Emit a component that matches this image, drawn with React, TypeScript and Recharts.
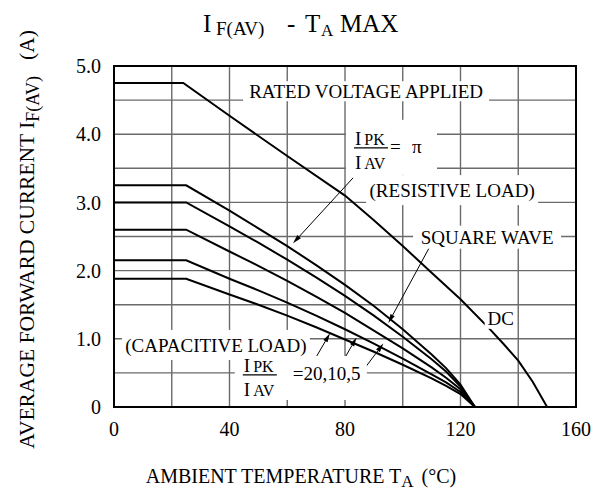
import React from 'react';
import {
  ComposedChart,
  Line,
  XAxis,
  YAxis,
  CartesianGrid,
  ReferenceArea,
  ReferenceDot,
  ReferenceLine,
  Label,
} from 'recharts';

const SERIF = '"Liberation Serif", "Times New Roman", serif';

// temperatures (°C) where the rectified-load curves were read
const tempSteps = [0, 25, 40, 50, 60, 70, 80, 90, 100, 110, 115, 120, 125];
const resistivePi = [3.25, 3.25, 2.88, 2.62, 2.36, 2.08, 1.79, 1.48, 1.14, 0.77, 0.57, 0.33, 0];
const squareWave = [3.0, 3.0, 2.65, 2.41, 2.16, 1.9, 1.63, 1.34, 1.03, 0.7, 0.52, 0.3, 0];
const capacitive5 = [2.6, 2.6, 2.28, 2.07, 1.85, 1.62, 1.38, 1.12, 0.86, 0.58, 0.43, 0.26, 0];
const capacitive10 = [2.15, 2.15, 1.88, 1.71, 1.53, 1.34, 1.14, 0.93, 0.71, 0.48, 0.36, 0.22, 0];
const capacitive20 = [1.88, 1.88, 1.65, 1.5, 1.34, 1.17, 0.99, 0.81, 0.62, 0.42, 0.31, 0.19, 0];

// DC curve
const tempDc = [0, 24, 40, 60, 80, 90, 100, 110, 120, 130, 135, 140, 145, 150];
const currentDc = [4.75, 4.75, 4.27, 3.68, 3.1, 2.74, 2.36, 1.97, 1.58, 1.15, 0.92, 0.68, 0.37, 0];

const xTicks = [0, 20, 40, 60, 80, 100, 120, 140, 160];
const xTickLabels = ['0', '', '40', '', '80', '', '120', '', '160'];
const yTicks = [0, 0.5, 1, 1.5, 2, 2.5, 3, 3.5, 4, 4.5, 5];
const yTickLabels = ['0', '', '1.0', '', '2.0', '', '3.0', '', '4.0', '', '5.0'];

const toPoints = (ts: number[], vs: number[]) => ts.map((t, i) => ({ t, i: vs[i] }));

const rectifiedCurves = [resistivePi, squareWave, capacitive5, capacitive10, capacitive20].map((v) =>
  toPoints(tempSteps, v)
);
const dcCurve = toPoints(tempDc, currentDc);

const BoxText = ({ cx, cy, text, w, h }: any) => (
  <g>
    <rect x={cx - w / 2} y={cy - h / 2} width={w} height={h} fill="#fff" />
    <text x={cx} y={cy + 7} textAnchor="middle" fontFamily={SERIF} fontSize={19} fill="#000">
      {text}
    </text>
  </g>
);

// I_PK / I_AV fraction, cy is the fraction bar
const Fraction = ({ cx, cy, parts, box }: any) => (
  <g fontFamily={SERIF} fill="#000">
    <rect x={cx + box[0]} y={cy + box[1]} width={box[2]} height={box[3]} fill="#fff" />
    <text x={cx - 16} y={cy - 3} fontSize={19}>
      I<tspan fontSize={16} dx={3}>PK</tspan>
    </text>
    <line x1={cx - 17} x2={cx + 17} y1={cy} y2={cy} stroke="#000" strokeWidth={1.2} />
    <text x={cx - 16} y={cy + 21} fontSize={19}>
      I<tspan fontSize={16} dx={3}>AV</tspan>
    </text>
    {parts.map((p: any, k: number) => (
      <text key={k} x={cx + p[0]} y={cy + 5} fontSize={19}>
        {p[1]}
      </text>
    ))}
  </g>
);

const Arrow = (props: any) => {
  const { x1, y1, x2, y2 } = props;
  const dx = x2 - x1;
  const dy = y2 - y1;
  const len = Math.hypot(dx, dy) || 1;
  const ux = dx / len;
  const uy = dy / len;
  const hl = 9;
  const hw = 2.4;
  const bx = x2 - ux * hl;
  const by = y2 - uy * hl;
  return (
    <g>
      <line x1={x1} y1={y1} x2={bx} y2={by} stroke="#000" strokeWidth={1} />
      <polygon
        points={`${x2},${y2} ${bx - uy * hw},${by + ux * hw} ${bx + uy * hw},${by - ux * hw}`}
        fill="#000"
      />
    </g>
  );
};

const XTitle = ({ viewBox }: any) => (
  <text x={301} y={viewBox.y + 76} textAnchor="middle" fontFamily={SERIF} fontSize={20} fill="#000">
    AMBIENT TEMPERATURE T<tspan fontSize={17} dy={4}>A</tspan>
    <tspan dy={-4} dx={8}>(°C)</tspan>
  </text>
);

const YTitle = ({ viewBox }: any) => {
  const x = 34;
  const y = viewBox.y + viewBox.height / 2 + 3;
  return (
    <text
      x={x}
      y={y}
      transform={`rotate(-90 ${x} ${y})`}
      textAnchor="middle"
      fontFamily={SERIF}
      fontSize={21.5}
      fill="#000"
    >
      AVERAGE FORWARD CURRENT I<tspan fontSize={18} dy={5}>F(AV)</tspan>
      <tspan dy={-5} dx={16}>(A)</tspan>
    </text>
  );
};

export default function App() {
  return (
    <div style={{ position: 'absolute', left: 0, top: 0, width: 600, height: 496, background: '#fff' }}>
      <svg width={600} height={50} style={{ position: 'absolute', left: 0, top: 0 }}>
        <g fontFamily={SERIF} fill="#000">
          <text x={203} y={32} fontSize={25}>I</text>
          <text x={216} y={35} fontSize={19}>F(AV)</text>
          <text x={287} y={32} fontSize={25}>-</text>
          <text x={305} y={32} fontSize={25}>T</text>
          <text x={321} y={36} fontSize={17}>A</text>
          <text x={340} y={32} fontSize={25}>MAX</text>
        </g>
      </svg>
      <div style={{ position: 'absolute', left: 0, top: 0 }}>
        <ComposedChart width={600} height={496} margin={{ top: 66, right: 24, bottom: 59, left: 64 }}>
          <CartesianGrid stroke="#6b6b6b" strokeWidth={1.4} />
          <XAxis
            type="number"
            dataKey="t"
            domain={[0, 160]}
            ticks={xTicks}
            interval={0}
            height={30}
            axisLine={false}
            tickLine={false}
            tickMargin={9}
            tickFormatter={(v: number) => xTickLabels[xTicks.indexOf(v)]}
            tick={{ fill: '#000', fontSize: 20, fontFamily: SERIF }}
          >
            <Label content={<XTitle />} />
          </XAxis>
          <YAxis
            type="number"
            dataKey="i"
            domain={[0, 5]}
            ticks={yTicks}
            interval={0}
            width={50}
            axisLine={false}
            tickLine={false}
            tickMargin={7}
            tickFormatter={(v: number) => yTickLabels[yTicks.indexOf(v)]}
            tick={{ fill: '#000', fontSize: 20, fontFamily: SERIF }}
          >
            <Label content={<YTitle />} />
          </YAxis>

          <ReferenceDot x={87.3} y={4.63} r={0} shape={(p: any) => <BoxText cx={p.cx} cy={p.cy} w={246} h={20} text="RATED VOLTAGE APPLIED" />} />
          <ReferenceDot x={117.1} y={3.18} r={0} shape={(p: any) => <BoxText cx={p.cx} cy={p.cy} w={172} h={30} text="(RESISTIVE LOAD)" />} />
          <ReferenceDot x={129.2} y={2.49} r={0} shape={(p: any) => <BoxText cx={p.cx} cy={p.cy} w={148} h={23} text="SQUARE WAVE" />} />
          <ReferenceDot x={133.9} y={1.3} r={0} shape={(p: any) => <BoxText cx={p.cx} cy={p.cy} w={32} h={21} text="DC" />} />
          <ReferenceDot x={35.3} y={0.91} r={0} shape={(p: any) => <BoxText cx={p.cx} cy={p.cy} w={188} h={30} text="(CAPACITIVE LOAD)" />} />
          <ReferenceDot
            x={89.0}
            y={3.8}
            r={0}
            shape={(p: any) => <Fraction cx={p.cx} cy={p.cy} parts={[[19, '='], [41, 'π']]} box={[-25, -28, 91, 55]} />}
          />
          <ReferenceDot
            x={50.5}
            y={0.47}
            r={0}
            shape={(p: any) => <Fraction cx={p.cx} cy={p.cy} parts={[[33, '=20,10,5']]} box={[-25, -19, 132, 44]} />}
          />

          {rectifiedCurves.map((d, k) => (
            <Line
              key={k}
              data={d}
              dataKey="i"
              type="linear"
              stroke="#000"
              strokeWidth={2}
              dot={false}
              activeDot={false}
              isAnimationActive={false}
            />
          ))}
          <Line
            data={dcCurve}
            dataKey="i"
            type="linear"
            stroke="#000"
            strokeWidth={2}
            dot={false}
            activeDot={false}
            isAnimationActive={false}
          />

          <ReferenceLine segment={[{ x: 82.8, y: 3.36 }, { x: 62.0, y: 2.4 }]} shape={(p: any) => <Arrow {...p} />} />
          <ReferenceLine segment={[{ x: 109.1, y: 2.33 }, { x: 95.0, y: 1.23 }]} shape={(p: any) => <Arrow {...p} />} />
          <ReferenceLine segment={[{ x: 69.0, y: 0.66 }, { x: 74.8, y: 1.08 }]} shape={(p: any) => <Arrow {...p} />} />
          <ReferenceLine segment={[{ x: 79.4, y: 0.68 }, { x: 84.0, y: 1.02 }]} shape={(p: any) => <Arrow {...p} />} />
          <ReferenceLine segment={[{ x: 86.3, y: 0.54 }, { x: 93.3, y: 0.93 }]} shape={(p: any) => <Arrow {...p} />} />

          <ReferenceArea x1={0} x2={160} y1={0} y2={5} fill="none" stroke="#000" strokeWidth={2} fillOpacity={0} />
        </ComposedChart>
      </div>
    </div>
  );
}
